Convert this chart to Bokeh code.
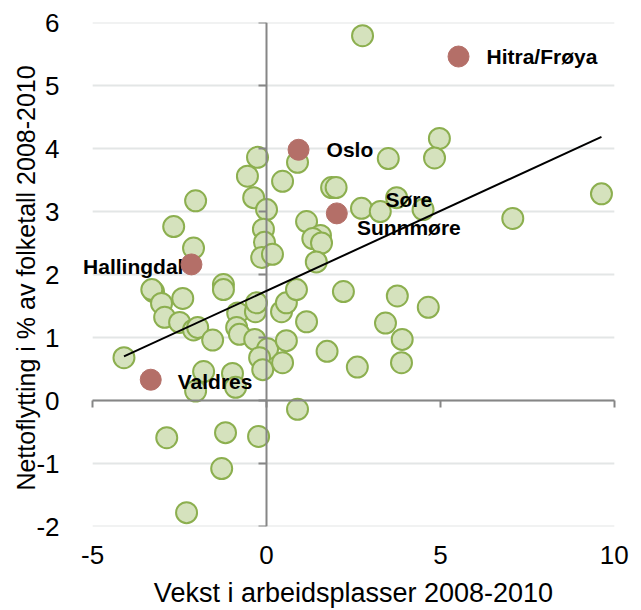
import numpy as np
from bokeh.plotting import figure
from bokeh.models import LinearAxis, FixedTicker, Range1d, Label
from bokeh.embed import file_html
from bokeh.resources import INLINE

# --- data ---
jobs_growth = [2.76, 0.89, -0.26, -0.55, 0.46, 1.87, 2.0, 3.5, -2.04, -0.37,
               0.0, 2.73, 3.27, -2.67, 1.15, -0.09, 1.55, 1.33, 1.58, -2.1,
               -0.06, -0.14, 0.17, 1.43, -3.25, -3.3, -2.41, -1.24, -1.24, 2.21,
               3.76, 4.97, 4.83, 3.74, 4.5, 7.08, 9.63, 4.65, -3.02, -2.93,
               -2.5, -2.1, -1.98, -1.55, -4.1, -1.81, -2.04, -0.98, -0.89, -0.83,
               -0.86, -0.78, -0.32, -0.29, -0.34, 0.03, -0.2, -0.11, 0.46, 0.43,
               0.57, 0.86, 0.57, 1.15, 1.74, 2.61, 3.42, 3.9, 3.88, 0.89,
               -2.87, -1.18, -0.23, -1.29, -2.3]
net_migration = [5.79, 3.78, 3.86, 3.56, 3.48, 3.38, 3.38, 3.84, 3.17, 3.22,
                 3.03, 3.05, 3.0, 2.76, 2.84, 2.72, 2.62, 2.57, 2.5, 2.42,
                 2.51, 2.27, 2.32, 2.2, 1.73, 1.76, 1.62, 1.84, 1.76, 1.73,
                 1.66, 4.16, 3.85, 3.22, 3.03, 2.89, 3.28, 1.48, 1.54, 1.32,
                 1.24, 1.12, 1.16, 0.96, 0.68, 0.46, 0.15, 0.43, 0.21, 1.39,
                 1.16, 1.05, 1.41, 1.55, 0.97, 0.82, 0.68, 0.49, 0.6, 1.41,
                 1.55, 1.76, 0.95, 1.25, 0.78, 0.53, 1.23, 0.97, 0.6, -0.14,
                 -0.59, -0.51, -0.57, -1.08, -1.78]

region_names = ["Hitra/Frøya", "Oslo", "Søre\nSunnmøre", "Hallingdal", "Valdres"]
region_jobs = [5.52, 0.92, 2.02, -2.16, -3.33]
region_migration = [5.46, 3.98, 2.97, 2.16, 0.33]

x_ticks = [-5, 0, 5, 10]
y_ticks = [-2, -1, 0, 1, 2, 3, 4, 5, 6]

x_title = "Vekst i arbeidsplasser 2008-2010"
y_title = "Nettoflytting i % av folketall  2008-2010"

FONT = "Liberation Sans"
AXIS_GREY = "#868686"
GRID_GREY = "#e3e6e6"
SIDE_PAD = 0.35   # room beside the axis span so the "Hallingdal" label can overhang
PX_PER_UNIT = 34.8

x_lo, x_hi = x_ticks[0], x_ticks[-1]

p = figure(frame_width=int(round((x_hi - x_lo + 2 * SIDE_PAD) * PX_PER_UNIT)),
           frame_height=504,
           x_range=Range1d(x_lo - SIDE_PAD, x_hi + SIDE_PAD),
           y_range=Range1d(y_ticks[0], y_ticks[-1]),
           output_backend="svg", toolbar_location=None,
           min_border_left=80, min_border_right=4,
           min_border_top=22, min_border_bottom=0)
p.outline_line_color = None
p.background_fill_color = "white"
p.border_fill_color = "white"

p.xgrid.visible = False
p.ygrid.visible = False
# horizontal gridlines only across the axis span
p.segment(x0=[x_lo] * len(y_ticks), y0=y_ticks,
          x1=[x_hi] * len(y_ticks), y1=y_ticks,
          line_color=GRID_GREY, line_width=2, level="underlay")

# label-only axes on the outer edges
for ax, ticks in ((p.xaxis[0], x_ticks), (p.yaxis[0], y_ticks)):
    ax.ticker = FixedTicker(ticks=ticks)
    ax.major_label_overrides = {t: str(t) for t in ticks}
    ax.axis_line_color = None
    ax.major_tick_line_color = None
    ax.minor_tick_line_color = None
    ax.major_tick_out = 0
    ax.major_tick_in = 0
    ax.major_label_text_font = FONT
    ax.major_label_text_font_size = "26px"
    ax.major_label_text_color = "black"
    ax.axis_label_text_font = FONT
    ax.axis_label_text_font_style = "normal"
    ax.axis_label_text_color = "black"

p.xaxis[0].axis_label = x_title
p.xaxis[0].axis_label_text_font_size = "27px"
p.xaxis[0].major_label_standoff = 19
p.xaxis[0].axis_label_standoff = 11
p.yaxis[0].axis_label = y_title
p.yaxis[0].axis_label_text_font_size = "25px"
p.yaxis[0].major_label_standoff = 21
p.yaxis[0].axis_label_standoff = -7

# zero-crossing axes with ticks (no labels drawn)
zero_x = LinearAxis(fixed_location=0, ticker=FixedTicker(ticks=x_ticks),
                    bounds=(x_lo, x_hi),
                    major_tick_in=7, major_tick_out=0, major_label_standoff=0,
                    minor_tick_line_color=None,
                    axis_line_color=AXIS_GREY, axis_line_width=2,
                    major_tick_line_color=AXIS_GREY, major_tick_line_width=2,
                    major_label_text_color=None, major_label_text_alpha=0,
                    major_label_text_font_size="1px")
p.add_layout(zero_x, "above")
zero_y = LinearAxis(fixed_location=0, ticker=FixedTicker(ticks=y_ticks),
                    major_tick_in=8, major_tick_out=0, major_label_standoff=0,
                    minor_tick_line_color=None,
                    axis_line_color=AXIS_GREY, axis_line_width=2,
                    major_tick_line_color=AXIS_GREY, major_tick_line_width=2,
                    major_label_text_color=None, major_label_text_alpha=0,
                    major_label_text_font_size="1px")
p.add_layout(zero_y, "right")

# green points
p.scatter(jobs_growth, net_migration, size=21,
          fill_color="#d5e2bd", line_color="#8caf4f", line_width=2)

# labels
label_style = {
    "Hitra/Frøya": ("left", 28, 0),
    "Oslo": ("left", 28, 0),
    "Søre\nSunnmøre": ("center", 72, 0),
    "Hallingdal": ("right", -8, -2),
    "Valdres": ("left", 27, -2),
}
for name, xv, yv in zip(region_names, region_jobs, region_migration):
    align, dx, dy = label_style[name]
    p.add_layout(Label(x=xv, y=yv, text=name, x_offset=dx, y_offset=dy,
                       text_align=align, text_baseline="middle",
                       text_font=FONT, text_font_style="bold",
                       text_font_size="21px", text_color="black",
                       text_line_height=1.25))

# highlighted points and trend line above the labels
p.scatter(region_jobs, region_migration, size=21,
          fill_color="#b46f68", line_color="#b46f68", line_width=1,
          level="overlay")

all_x = np.array(jobs_growth + region_jobs)
all_y = np.array(net_migration + region_migration)
slope, intercept = np.polyfit(all_x, all_y, 1)
tx = np.array([min(jobs_growth), max(jobs_growth)])
p.line(tx, slope * tx + intercept, line_color="black", line_width=2,
       level="overlay")

open("out.html", "w").write(file_html(p, INLINE))
